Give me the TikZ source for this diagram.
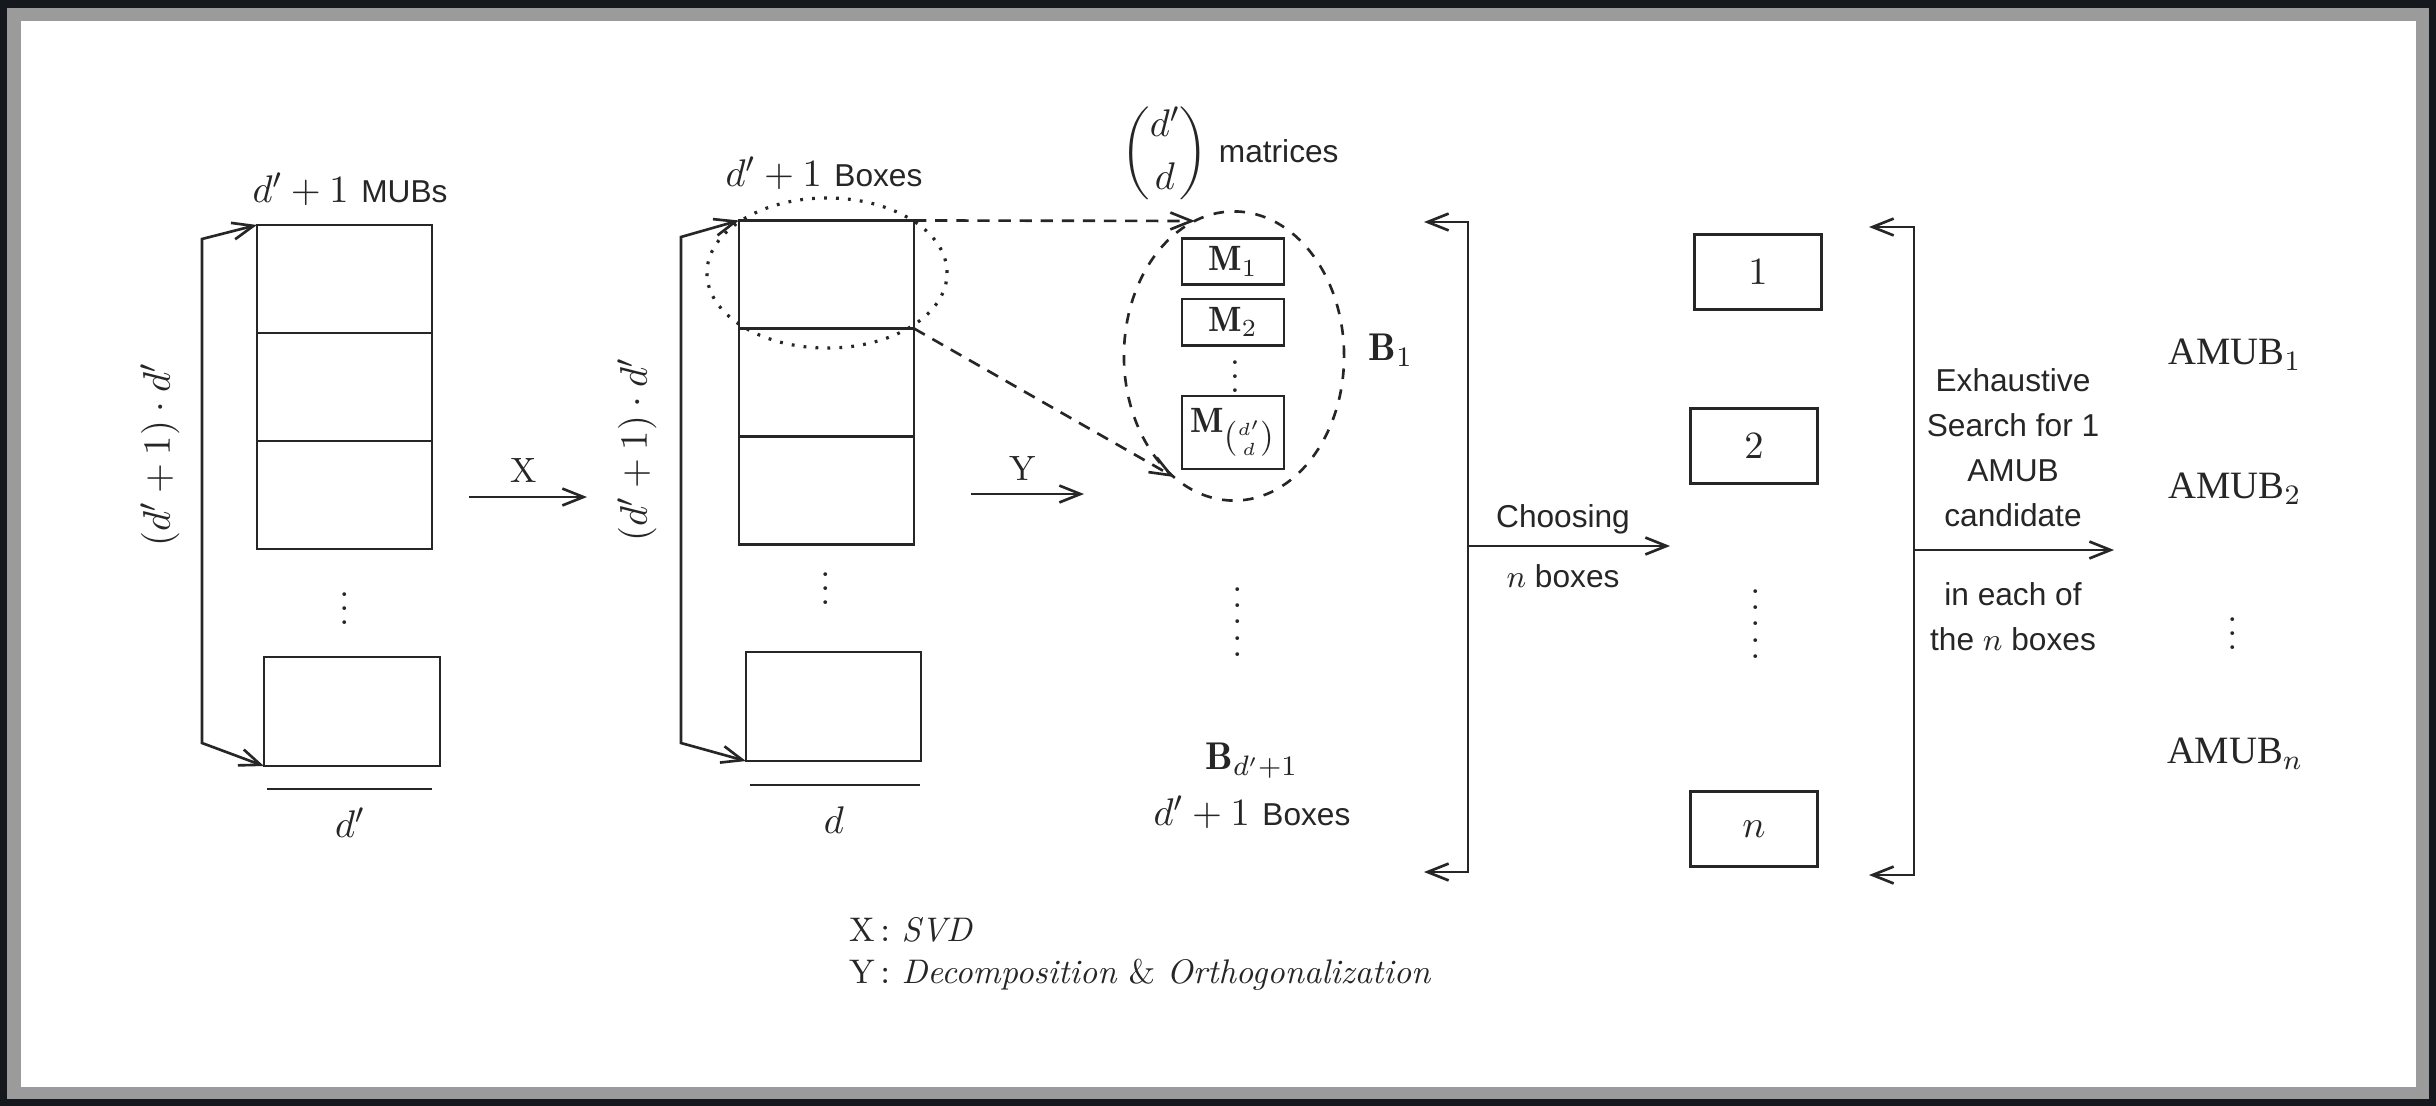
\documentclass[tikz,border=0pt]{standalone}
\usepackage{amsmath,amssymb,bm}
\usepackage{fontspec}
\setsansfont{Liberation Sans}
\newfontfamily\amubfont{Liberation Serif}
\usepackage{tikz}
\usetikzlibrary{positioning}
\usetikzlibrary{shapes.geometric}
\usetikzlibrary{arrows.meta}
\definecolor{framedark}{HTML}{15191E}
\definecolor{framegray}{HTML}{9B9B9B}
\definecolor{inkgray}{HTML}{262626}
\tikzset{cellnode/.style={rectangle, draw=inkgray, line width=0.75pt, outer sep=0pt, minimum width=1.75cm, minimum height=1.08cm}}
\tikzset{matnode/.style={rectangle, draw=inkgray, line width=0.75pt, minimum width=1.02cm, minimum height=0.46cm, inner sep=1pt, font=\fontsize{10}{12}\selectfont}}
\tikzset{numnode/.style={rectangle, draw=inkgray, line width=0.85pt, minimum width=1.26cm, minimum height=0.74cm, font=\fontsize{11}{13}\selectfont}}
\tikzset{sanstext/.style={font=\fontsize{9}{12.8}\selectfont\sffamily, align=center}}
\tikzset{mathtext/.style={font=\fontsize{11}{13}\selectfont}}
\tikzset{amubtext/.style={font=\fontsize{11}{13}\selectfont\amubfont}}
\tikzset{dashline/.style={dash pattern=on 3.5pt off 2.5pt}}
\tikzset{dotline/.style={dash pattern=on 0.8pt off 2.6pt}}
\newcommand{\stackdots}{\vbox{\baselineskip=4.6pt\lineskiplimit=-\maxdimen\hbox{.}\hbox{.}\hbox{.}\hbox{.}\hbox{.}}}
\newcommand{\sanswords}[1]{{\sffamily\fontsize{9}{11}\selectfont #1}}

\begin{document}
\begin{tikzpicture}[x=0.01cm, y=-0.01cm, line width=0.75pt, color=inkgray, >={Straight Barb[length=6pt,width=4.8pt]}]

    \useasboundingbox (0,0) rectangle (2436,1106);
    \fill[framedark] (0,0) rectangle (2436,1106);
    \fill[framegray] (7,8) rectangle (2429,1099);
    \fill[white] (21,21) rectangle (2416,1087);

    % MUB column
    \node[cellnode]                          (mub1)   at (344.5,279)  {};
    \node[cellnode, below=0pt of mub1]       (mub2)                   {};
    \node[cellnode, below=0pt of mub2]       (mub3)                   {};
    \node[cellnode, minimum width=1.76cm, minimum height=1.09cm] (mubN) at (352,711.5) {};
    \node[mathtext]                          (mubdots)   at (345,598) {$\vdots$};
    \node[mathtext]                          (mubtitle)  at (350,189) {$d'+1$ \sanswords{MUBs}};
    \node[mathtext, rotate=90]               (mubheight) at (160,455) {$(d'+1)\cdot d'$};
    \node[mathtext]                          (mubwidth)  at (350,823) {$d'$};
    \coordinate (mubbrT) at (202,239);
    \coordinate (mubbrB) at (202,743);
    \draw[<->] (mub1.north west) -- (mubbrT) -- (mubbrB) -- (mubN.south west);
    \draw (267,789) -- (432,789);

    \coordinate (xfrom) at (469,497);
    \coordinate (xto)   at (587,497);
    \node[font=\fontsize{10}{12}\selectfont] (xlabel) at (524,470) {X};
    \draw[->] (xfrom) -- (xto);

    % box column
    \node[cellnode]                          (box1)   at (826.5,274.5) {};
    \node[cellnode, below=0pt of box1]       (box2)                    {};
    \node[cellnode, below=0pt of box2]       (box3)                    {};
    \node[cellnode, minimum width=1.75cm, minimum height=1.09cm] (boxN) at (833.5,706.5) {};
    \node[mathtext]                          (boxdots)   at (826,578) {$\vdots$};
    \node[mathtext]                          (boxtitle)  at (824,173) {$d'+1$ \sanswords{Boxes}};
    \node[mathtext, rotate=90]               (boxheight) at (637,450) {$(d'+1)\cdot d'$};
    \node[mathtext]                          (boxwidth)  at (834,820) {$d$};
    \coordinate (boxbrT) at (681,237);
    \coordinate (boxbrB) at (681,743);
    \draw[<->] (box1.north west) -- (boxbrT) -- (boxbrB) -- (boxN.south west);
    \draw (750,785) -- (920,785);
    \node[ellipse, draw, dotline, line width=0.9pt, minimum width=2.4cm, minimum height=1.5cm] (boxsel) at (827,273) {};

    \coordinate (mtop) at (1195,221);
    \coordinate (mbot) at (1174,477);
    \draw[->, dashline] (box1.north east) -- (mtop);
    \draw[->, dashline] (box2.north east) -- (mbot);

    \coordinate (yfrom) at (971,494);
    \coordinate (yto)   at (1084,494);
    \node[font=\fontsize{10}{12}\selectfont] (ylabel) at (1023,468) {Y};
    \draw[->] (yfrom) -- (yto);

    % matrices of B_1
    \node[mathtext]                          (mcount) at (1230,153) {$\displaystyle\binom{d'}{d}$\hspace{3pt}\sanswords{matrices}};
    \node[ellipse, draw, dashed, minimum width=2.2cm, minimum height=2.89cm] (groupone) at (1234,356) {};
    \node[matnode]                           (mone)   at (1233,261.5) {$\mathbf{M}_1$};
    \node[matnode, below=0.12cm of mone]     (mtwo)                   {$\mathbf{M}_2$};
    \node[matnode, minimum height=0.73cm, below=0.48cm of mtwo] (mlast) {$\mathbf{M}_{\binom{d'}{d}}$};
    \node[font=\fontsize{10}{12}\selectfont] (mdots)  at (1235,366) {$\vdots$};
    \node[mathtext]                          (bone)   at (1391,350) {$\mathbf{B}_1$};
    \node[mathtext]                          (bdots)  at (1238,622) {\stackdots};
    \node[mathtext]                          (blast)  at (1252,761) {$\mathbf{B}_{d'+1}$};
    \node[mathtext]                          (bcount) at (1252,812) {$d'+1$ \sanswords{Boxes}};

    \coordinate (chtopL) at (1424,222);
    \coordinate (chtopR) at (1468,222);
    \coordinate (chbotR) at (1468,872);
    \coordinate (chbotL) at (1424,872);
    \draw[<->] (chtopL) -- (chtopR) -- (chbotR) -- (chbotL);
    \coordinate (chmid) at (1468,546);
    \coordinate (chend) at (1670,546);
    \draw[->] (chmid) -- (chend);
    \node[sanstext] (chtext)  at (1563,519) {Choosing};
    \node[sanstext] (chcount) at (1563,576) {$n$ boxes};

    % chosen boxes
    \node[numnode]  (pick1)    at (1758,272) {$1$};
    \node[numnode]  (pick2)    at (1754,446) {$2$};
    \node[numnode]  (pickN)    at (1754,829) {$n$};
    \node[mathtext] (pickdots) at (1756,624) {\stackdots};

    \coordinate (setopL) at (1869,227);
    \coordinate (setopR) at (1914,227);
    \coordinate (sebotR) at (1914,875);
    \coordinate (sebotL) at (1869,875);
    \draw[<->] (setopL) -- (setopR) -- (sebotR) -- (sebotL);
    \coordinate (semid) at (1914,550);
    \coordinate (seend) at (2114,550);
    \draw[->] (semid) -- (seend);
    \node[sanstext] (searchtext) at (2013,448) {Exhaustive\\Search for 1\\AMUB\\candidate};
    \node[sanstext] (eachtext)   at (2013,617) {in each of\\the $n$ boxes};

    % results
    \node[amubtext] (amub1)    at (2235,355) {AMUB$_1$};
    \node[amubtext] (amub2)    at (2235,489) {AMUB$_2$};
    \node[mathtext] (amubdots) at (2233,623) {$\vdots$};
    \node[amubtext] (amubN)    at (2235,754) {AMUB$_n$};

    \node[anchor=west, align=left, font=\fontsize{9.7}{12.2}\selectfont] (legend) at (836,954)
        {X$\,:$\ \textit{SVD}\\Y$\,:$\ \textit{Decomposition} \& \textit{Orthogonalization}};
\end{tikzpicture}
\end{document}
